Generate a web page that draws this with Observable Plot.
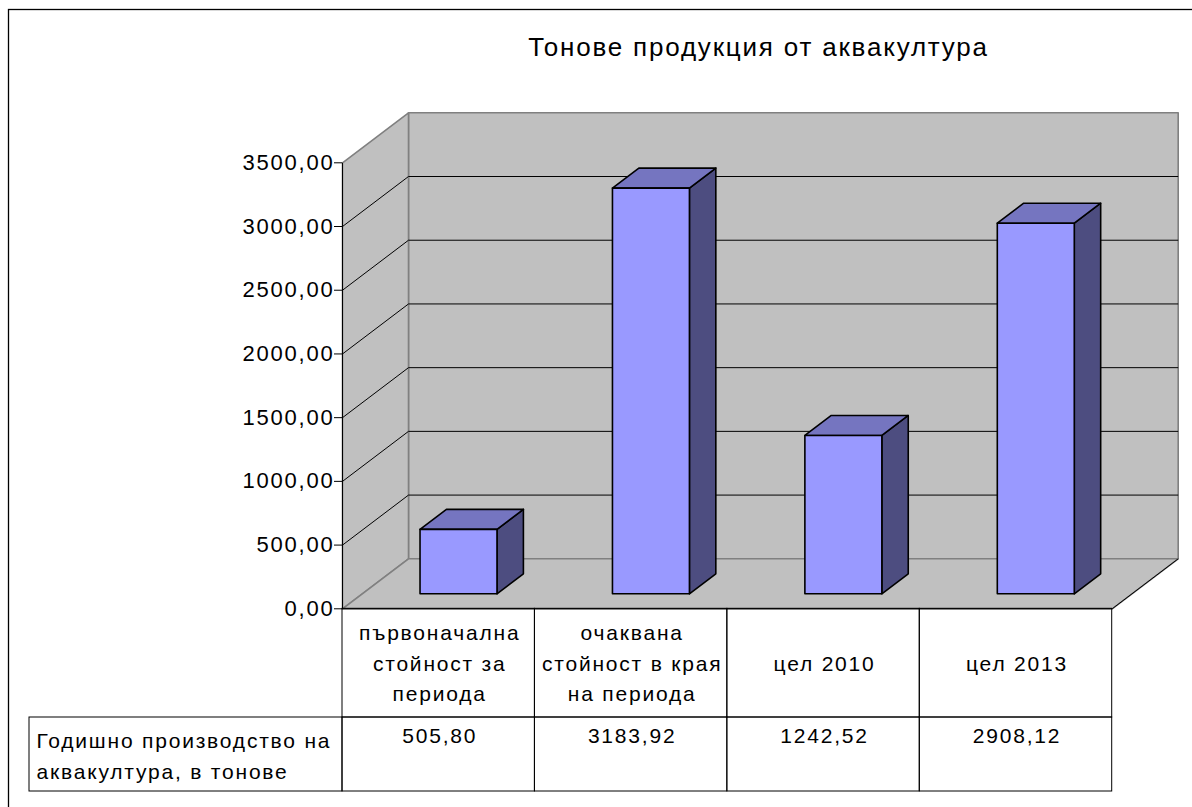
<!DOCTYPE html>
<html>
<head>
<meta charset="utf-8">
<script src="https://cdn.jsdelivr.net/npm/d3@7"></script>
<script src="https://cdn.jsdelivr.net/npm/@observablehq/plot@0.6"></script>
<style>
  html, body { margin: 0; padding: 0; background: #fff; }
  #chart svg { display: block; }
  #chart svg text { letter-spacing: 1.8px; }
</style>
</head>
<body>
<div id="chart"></div>
<script>
// ---------- data ----------
const title = "Тонове продукция от аквакултура";
const categories = [
  "първоначална\nстойност за\nпериода",
  "очаквана\nстойност в края\nна периода",
  "цел 2010",
  "цел 2013"
];
const values = [505.80, 3183.92, 1242.52, 2908.12];
const seriesLabel = "Годишно производство на\nаквакултура, в тонове";
const yTicks = [0, 500, 1000, 1500, 2000, 2500, 3000, 3500];
const yMax = 3500;

// ---------- layout (pixels) ----------
const W = 1192, H = 807;
const X0 = 342, X1 = 1111.7;       // front edge of floor
const Y0 = 608.3, YT = 162.3;      // y=0 and y=yMax on the front plane
const DEPTH = [66, 50];            // pixel offset of the back plane
const ROW1 = 717, ROW2 = 791;      // table row bottoms
const LABEL_LEFT = 29;

const n = categories.length;
const BAND = (X1 - X0) / n;
const PPU = (Y0 - YT) / yMax;
const DX = DEPTH[0] / BAND;        // depth offset expressed in x units
const DY = DEPTH[1] / PPU;         // depth offset expressed in y units
const pxToX = px => (px - X0) / BAND;
const pxToY = px => (Y0 - px) / PPU;
const proj = (x, y, d) => ({x: x + d * DX, y: y + d * DY});
const fmt = v => v.toFixed(2).replace(".", ",");

function polys(list) {
  const out = [];
  for (const {id, pts} of list) {
    const all = [...pts, pts[0]];
    for (const [x, y, d] of all) out.push({id, ...proj(x, y, d)});
  }
  return out;
}

// walls and floor
const wallPts = polys([
  {id: "back", pts: [[0, 0, 1], [n, 0, 1], [n, yMax, 1], [0, yMax, 1]]},
  {id: "left", pts: [[0, 0, 0], [0, 0, 1], [0, yMax, 1], [0, yMax, 0]]},
  {id: "floor", pts: [[0, 0, 0], [n, 0, 0], [n, 0, 1], [0, 0, 1]]}
]);

// bars (x from 0.3 to 0.7 of band, depth 0.3 to 0.7)
const bx0 = 0.3, bx1 = 0.7, d0 = 0.3, d1 = 0.7;
const fronts = polys(values.map((v, i) => ({id: "f" + i, pts: [[i + bx0, 0, d0], [i + bx1, 0, d0], [i + bx1, v, d0], [i + bx0, v, d0]]})));
const tops = polys(values.map((v, i) => ({id: "t" + i, pts: [[i + bx0, v, d0], [i + bx1, v, d0], [i + bx1, v, d1], [i + bx0, v, d1]]})));
const sides = polys(values.map((v, i) => ({id: "s" + i, pts: [[i + bx1, 0, d0], [i + bx1, 0, d1], [i + bx1, v, d1], [i + bx1, v, d0]]})));

const gridVals = yTicks.filter(v => v > 0 && v < yMax);
const backGrid = gridVals.map(v => ({a: proj(0, v, 1), b: proj(n, v, 1)}));
const leftGrid = gridVals.map(v => ({a: proj(0, v, 0), b: proj(0, v, 1)}));
const blackEdges = [
  {a: proj(0, 0, 0), b: proj(0, yMax, 0)},
  {a: proj(0, 0, 0), b: proj(n, 0, 0)},
  {a: proj(n, 0, 0), b: proj(n, 0, 1)}
];

const idx = d3.range(n);
const yR1 = pxToY(ROW1), yR2 = pxToY(ROW2);
const xL = pxToX(LABEL_LEFT);

const font = "Liberation Sans, Arial, sans-serif";

const plot = Plot.plot({
  width: W, height: H, margin: 0,
  style: {fontFamily: font, background: "#fff", overflow: "hidden"},
  x: {domain: [0, n], range: [X0, X1], axis: null},
  y: {domain: [0, yMax], range: [Y0, YT], axis: null},
  marks: [
    Plot.frame({insetLeft: 8, insetTop: 9, insetRight: -20, insetBottom: -20, stroke: "#000", strokeWidth: 1.3}),
    Plot.line(wallPts, {x: "x", y: "y", z: "id", fill: "#c0c0c0", stroke: "#808080", strokeWidth: 1.6}),
    Plot.link(backGrid, {x1: d => d.a.x, y1: d => d.a.y, x2: d => d.b.x, y2: d => d.b.y, stroke: "#000", strokeWidth: 1}),
    Plot.link(leftGrid, {x1: d => d.a.x, y1: d => d.a.y, x2: d => d.b.x, y2: d => d.b.y, stroke: "#000", strokeWidth: 1}),
    Plot.link(blackEdges, {x1: d => d.a.x, y1: d => d.a.y, x2: d => d.b.x, y2: d => d.b.y, stroke: "#000", strokeWidth: 1}),
    Plot.ruleY(yTicks, {y: d => d, x1: 0, x2: 0, insetLeft: -8, stroke: "#000", strokeWidth: 1}),
    Plot.text(yTicks, {x: 0, y: d => d, text: fmt, textAnchor: "end", dx: -8, fontSize: 22, fill: "#000"}),
    // bars
    Plot.line(sides, {x: "x", y: "y", z: "id", fill: "#4d4d80", stroke: "#000", strokeWidth: 1.6}),
    Plot.line(tops, {x: "x", y: "y", z: "id", fill: "#7575c0", stroke: "#000", strokeWidth: 1.6}),
    Plot.line(fronts, {x: "x", y: "y", z: "id", fill: "#9999ff", stroke: "#000", strokeWidth: 1.6}),
    // table
    Plot.rect(idx, {x1: i => i, x2: i => i + 1, y1: 0, y2: yR1, fill: "none", stroke: "#000", strokeWidth: 1}),
    Plot.rect(idx, {x1: i => i, x2: i => i + 1, y1: yR1, y2: yR2, fill: "none", stroke: "#000", strokeWidth: 1}),
    Plot.rect([seriesLabel], {x1: xL, x2: 0, y1: yR1, y2: yR2, fill: "none", stroke: "#000", strokeWidth: 1}),
    Plot.text(categories, {x: (d, i) => i + 0.5, y: (yR1) / 2, text: d => d, dx: 1, dy: -2, fontSize: 21, lineHeight: 1.45, fill: "#000"}),
    Plot.text(values, {x: (d, i) => i + 0.5, y: yR1, text: fmt, fontSize: 21, lineAnchor: "top", dx: 1, dy: 11, fill: "#000"}),
    Plot.text([seriesLabel], {x: xL, y: yR1, text: d => d, textAnchor: "start", lineAnchor: "top", dx: 7, dy: 9, fontSize: 21, lineHeight: 1.45, fill: "#000"}),
    // title
    Plot.text([title], {frameAnchor: "top", dx: 162, dy: 37, text: d => d, fontSize: 26, fill: "#000"})
  ]
});
document.getElementById("chart").appendChild(plot);
</script>
</body>
</html>
